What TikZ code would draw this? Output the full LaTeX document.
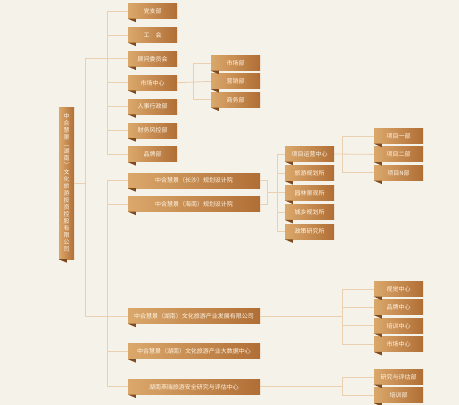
\documentclass[tikz,border=0pt]{standalone}
\usepackage{fontspec}
\setmainfont{Noto Sans CJK SC}
\usetikzlibrary{positioning, calc}

\definecolor{paper}{HTML}{F5F2EA}
\definecolor{boxlight}{HTML}{DBA86B}
\definecolor{boxdark}{HTML}{B06E35}
\definecolor{folddark}{HTML}{7E4A1E}
\definecolor{linktan}{HTML}{EBD0B0}
\definecolor{boxtext}{HTML}{FFF7EA}

\begin{document}
\begin{tikzpicture}[
    x=1pt, y=-1pt,
    box/.style={rectangle, left color=boxlight, right color=boxdark, text=boxtext, inner sep=0pt,
        minimum width=49pt, minimum height=15pt, font=\fontsize{6}{7}\selectfont},
    widebox/.style={box, minimum width=132pt},
    rootbox/.style={box, minimum width=15pt, minimum height=152pt, align=center},
    link/.style={draw=linktan, line width=0.8pt}
]
    \fill[paper] (0,0) rectangle (459,405);
    \useasboundingbox (0,0) rectangle (459,405);

    % Holding company
    \node[rootbox] (root) at (66.5,183) {中\\合\\慧\\景\\︵\\湖\\南\\︶\\文\\化\\旅\\游\\投\\资\\控\\股\\有\\限\\公\\司};

    % Head office departments
    \node[box] (dzb) at (152.5,11) {党支部};
    \node[box, below=8.5pt of dzb] (gh) {工\hspace{1em}会};
    \node[box, below=8.5pt of gh] (gwh) {顾问委员会};
    \node[box, below=8.5pt of gwh] (sczx) {市场中心};
    \node[box, below=8.5pt of sczx] (rsxz) {人事行政部};
    \node[box, below=8.5pt of rsxz] (cwfk) {财务风控部};
    \node[box, below=8.5pt of cwfk] (ppb) {品牌部};

    % Market centre units
    \node[box] (scb) at (235.5,63) {市场部};
    \node[box, below=3pt of scb] (yxb) {营销部};
    \node[box, below=3pt of yxb] (swb) {商务部};

    % Subsidiaries
    \node[widebox] (cs) at (194,180.5) {中合慧景（长沙）规划设计院};
    \node[widebox, below=8pt of cs] (hn) {中合慧景（海南）规划设计院};
    \node[widebox] (cyfz) at (194,316) {中合慧景（湖南）文化旅游产业发展有限公司};
    \node[widebox, below=20pt of cyfz] (dsj) {中合慧景（湖南）文化旅游产业大数据中心};
    \node[widebox, below=20pt of dsj] (yr) {湖南燕瑞旅游安全研究与评估中心};

    % Design institute units
    \node[box] (xmyy) at (309.5,154) {项目运营中心};
    \node[box, below=4pt of xmyy] (lygh) {旅游规划所};
    \node[box, below=4pt of lygh] (ylgs) {园林景观所};
    \node[box, below=4pt of ylgs] (cxgh) {城乡规划所};
    \node[box, below=4pt of cxgh] (zcyj) {政策研究所};

    % Project departments
    \node[box] (xm1) at (398.5,136) {项目一部};
    \node[box, below=3pt of xm1] (xm2) {项目二部};
    \node[box, below=3pt of xm2] (xmn) {项目N部};

    % Industry company units
    \node[box] (sjzx) at (398.5,289) {视觉中心};
    \node[box, below=3pt of sjzx] (ppzx) {品牌中心};
    \node[box, below=3pt of ppzx] (pxzx) {培训中心};
    \node[box, below=3pt of pxzx] (sczx2) {市场中心};

    % Research centre units
    \node[box] (yjpg) at (398.5,377) {研究与评估部};
    \node[box, below=3pt of yjpg] (pxb) {培训部};

    % Ribbon folds
    \foreach \n in {root,dzb,gh,gwh,sczx,rsxz,cwfk,ppb,scb,yxb,swb,cs,hn,cyfz,dsj,yr,
                    xmyy,lygh,ylgs,cxgh,zcyj,xm1,xm2,xmn,sjzx,ppzx,pxzx,sczx2,yjpg,pxb}
        \fill[folddark] (\n.south west) -- ++(8,0) -- ++(0,3.5) -- cycle;

    % Bus lines
    \coordinate (busA) at (85,0);
    \coordinate (busB) at (107,0);
    \coordinate (busC) at (193,0);
    \coordinate (busD) at (267,0);
    \coordinate (busE) at (277,0);
    \coordinate (busF) at (342,0);

    % Connectors
    \draw[link] (root.east) -- (root.east -| busA);
    \draw[link] (gwh.west -| busA) -- (cyfz.west -| busA);
    \draw[link] (gwh.west -| busA) -- (gwh.west);
    \draw[link] (cyfz.west -| busA) -- (cyfz.west);
    \draw[link] (dzb.west -| busB) -- (ppb.west -| busB);
    \draw[link] (cs.west -| busB) -- (yr.west -| busB);
    \foreach \n in {dzb,gh,sczx,rsxz,cwfk,ppb,cs,hn,dsj,yr}
        \draw[link] (\n.west -| busB) -- (\n.west);

    \draw[link] (sczx.east) -- (yxb.west);
    \draw[link] (scb.west -| busC) -- (swb.west -| busC);
    \foreach \n in {scb,swb}
        \draw[link] (\n.west -| busC) -- (\n.west);

    \draw[link] (cs.east) -- (cs.east -| busD) -- (hn.east -| busD) -- (hn.east);
    \draw[link] (ylgs.west -| busD) -- (ylgs.west);
    \draw[link] (xmyy.west -| busE) -- (zcyj.west -| busE);
    \foreach \n in {xmyy,lygh,cxgh,zcyj}
        \draw[link] (\n.west -| busE) -- (\n.west);

    \draw[link] (xmyy.east) -- (xm2.west);
    \draw[link] (xm1.west -| busF) -- (xmn.west -| busF);
    \foreach \n in {xm1,xmn}
        \draw[link] (\n.west -| busF) -- (\n.west);

    \draw[link] (cyfz.east) -- (cyfz.east -| busF);
    \draw[link] (sjzx.west -| busF) -- (sczx2.west -| busF);
    \foreach \n in {sjzx,ppzx,pxzx,sczx2}
        \draw[link] (\n.west -| busF) -- (\n.west);

    \draw[link] (yr.east) -- (yr.east -| busF);
    \draw[link] (yjpg.west -| busF) -- (pxb.west -| busF);
    \foreach \n in {yjpg,pxb}
        \draw[link] (\n.west -| busF) -- (\n.west);
\end{tikzpicture}
\end{document}
